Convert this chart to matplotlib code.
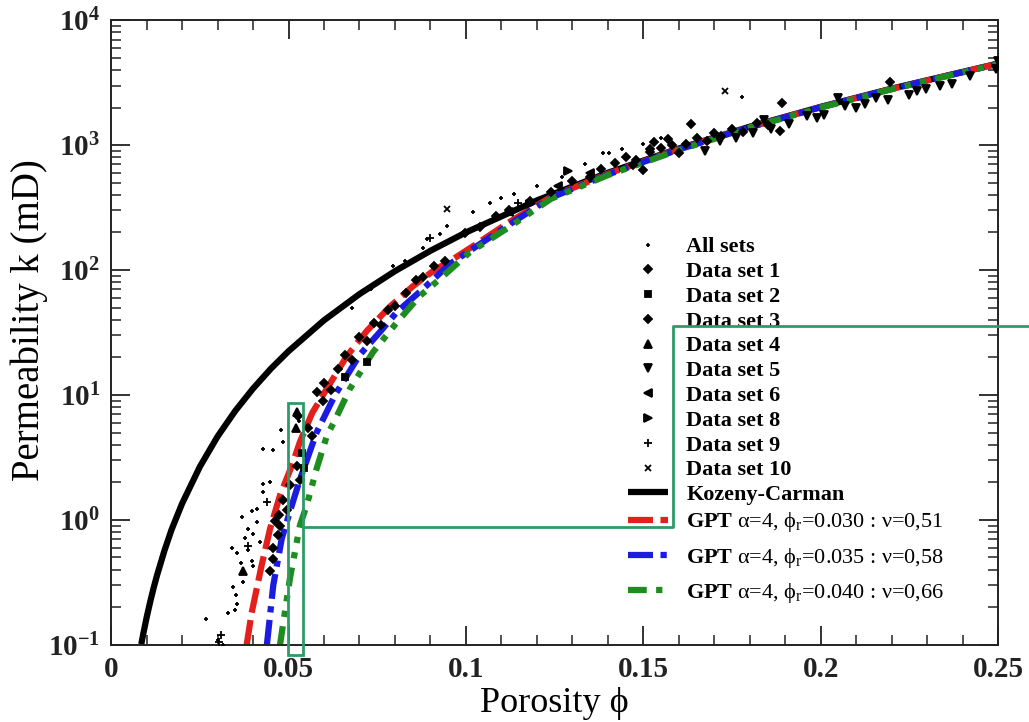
import numpy as np
import matplotlib
matplotlib.use('Agg')
import matplotlib.pyplot as plt
from matplotlib.patches import Rectangle
from matplotlib.ticker import FixedLocator, MultipleLocator, FuncFormatter, LogLocator

plt.rcParams['font.family'] = ['Liberation Serif', 'DejaVu Serif']
plt.rcParams['mathtext.fontset'] = 'custom'
plt.rcParams['mathtext.rm'] = 'Liberation Serif'
plt.rcParams['mathtext.it'] = 'Liberation Serif:italic'
plt.rcParams['mathtext.bf'] = 'Liberation Serif:bold'

# Kozeny-Carman curve
kc_phi = [0.0085, 0.009, 0.01, 0.011, 0.012, 0.013, 0.015, 0.017, 0.02, 0.025, 0.03,
          0.035, 0.04, 0.045, 0.05, 0.06, 0.07, 0.08, 0.09, 0.10, 0.12, 0.14,
          0.16, 0.18, 0.20, 0.22, 0.25]
kc_k = [0.101, 0.12, 0.165, 0.22, 0.287, 0.365, 0.564, 0.83, 1.35, 2.66, 4.65,
        7.46, 11.25, 16.2, 22.4, 39.6, 64.2, 98, 142.6, 200, 361, 601,
        940, 1405, 2025, 2835, 4500]

# GPT curves
red_phi = [0.0382, 0.0396, 0.0424, 0.0448, 0.0476, 0.0509, 0.0532, 0.0567, 0.0608,
           0.0664, 0.072, 0.0786, 0.085, 0.0907, 0.0965, 0.103, 0.112, 0.124, 0.14,
           0.16, 0.18, 0.20, 0.22, 0.25]
red_k = [0.1, 0.18, 0.43, 0.85, 1.57, 2.7, 4.2, 7.2, 11.2, 20.4, 32.4, 51, 74, 98,
         123, 162, 240, 385, 590, 930, 1395, 2015, 2820, 4490]

blue_phi = [0.0439, 0.0457, 0.0481, 0.0509, 0.0532, 0.0579, 0.0631, 0.0701, 0.0758,
            0.0805, 0.088, 0.0955, 0.103, 0.112, 0.124, 0.14, 0.16, 0.18, 0.20,
            0.22, 0.25]
blue_k = [0.1, 0.30, 0.71, 1.3, 2.1, 5.0, 10, 21, 32, 46, 71, 112, 155, 229, 380,
          582, 923, 1390, 2010, 2815, 4480]

green_phi = [0.0476, 0.0504, 0.0532, 0.0551, 0.0579, 0.0608, 0.0631, 0.0673, 0.0738,
             0.0805, 0.087, 0.0935, 0.101, 0.112, 0.124, 0.14, 0.16, 0.18, 0.20,
             0.22, 0.25]
green_k = [0.1, 0.34, 0.9, 1.3, 2.56, 4.7, 6.3, 11.2, 22, 38, 62, 89, 138, 219, 372,
           575, 912, 1380, 2000, 2800, 4470]

# measured data
all_phi = [0.0268, 0.0328, 0.0349, 0.0354, 0.0344, 0.0372, 0.034, 0.0354, 0.0386, 0.0398,
           0.040, 0.037, 0.0396, 0.041, 0.040, 0.042, 0.041, 0.0429, 0.0457, 0.0429,
           0.0448, 0.0429, 0.048, 0.0485, 0.0518, 0.0529, 0.0448, 0.030, 0.0315, 0.0352,
           0.0366, 0.0385, 0.0378, 0.0948, 0.1019, 0.1068, 0.1136, 0.0889, 0.0927, 0.0878,
           0.0795, 0.0828, 0.1387, 0.1403, 0.1439, 0.1335, 0.1498, 0.1777, 0.155, 0.0733,
           0.068, 0.110, 0.120, 0.127]
all_k = [0.16, 0.18, 0.19, 0.21, 0.29, 0.32, 0.59, 0.54, 0.57, 0.47,
         0.43, 1.06, 1.17, 1.22, 0.77, 0.66, 0.96, 3.7, 3.6, 1.94,
         2.0, 1.66, 5.2, 4.2, 7.0, 6.2, 0.59, 0.11, 0.10, 0.25,
         0.45, 0.85, 0.72, 226, 294, 345, 407, 178, 194, 150,
         107, 118, 870, 865, 930, 710, 1020, 2450, 1130, 70,
         50, 380, 470, 560]

set1_phi = [0.1635, 0.1518, 0.150, 0.1086, 0.0997, 0.189, 0.1885, 0.2196, 0.145, 0.148,
            0.152, 0.155, 0.158, 0.160, 0.162, 0.165, 0.168, 0.170, 0.172, 0.175,
            0.178, 0.182, 0.185, 0.157, 0.153, 0.147, 0.142, 0.138, 0.135, 0.130,
            0.124, 0.118, 0.112, 0.104]
set1_k = [1480, 930, 635, 270, 199, 2180, 1300, 3230, 800, 760,
          880, 950, 1000, 870, 1020, 1150, 1080, 1250, 1180, 1350,
          1280, 1500, 1450, 1120, 1050, 690, 720, 640, 560, 520,
          420, 360, 300, 220]

set2_phi = [0.0537, 0.072, 0.0545, 0.066]
set2_k = [3.4, 18.2, 2.6, 14]

set3_phi = [0.0523, 0.0532, 0.0476, 0.047, 0.0457, 0.0457, 0.0448, 0.0556, 0.0565, 0.0579,
            0.0598, 0.0528, 0.060, 0.062, 0.064, 0.066, 0.068, 0.070, 0.072, 0.074,
            0.076, 0.078, 0.080, 0.083, 0.086, 0.088, 0.091, 0.094, 0.0505, 0.0495,
            0.0485, 0.0462, 0.0472]
set3_k = [2.7, 2.1, 0.9, 0.75, 0.59, 0.49, 0.39, 5.4, 4.7, 10.5,
          9.0, 6.8, 12.5, 11, 16, 21, 19, 29, 27, 38,
          36, 48, 52, 66, 83, 88, 108, 118, 1.9, 1.2,
          1.45, 0.98, 1.1]

set4_phi = [0.0372, 0.0521, 0.0525]
set4_k = [0.39, 5.4, 7.3]

set5_phi = [0.181, 0.196, 0.201, 0.2068, 0.2124, 0.2157, 0.2297, 0.2335, 0.1673, 0.1715,
            0.205, 0.225, 0.237, 0.2495, 0.250, 0.186, 0.191, 0.199, 0.219, 0.227,
            0.242, 0.176, 0.184, 0.210]
set5_k = [1240, 1700, 1740, 2040, 2140, 2400, 2810, 2950, 895, 1075,
          2400, 2500, 3090, 4080, 4700, 1350, 1480, 1650, 2300, 2700,
          3600, 1150, 1600, 2000]

set6_phi = [0.126, 0.135, 0.112]
set6_k = [470, 600, 290]

set8_phi = [0.1288, 0.118]
set8_k = [626, 340]

set9_phi = [0.1146, 0.0899, 0.031, 0.0305, 0.0385, 0.044]
set9_k = [345, 179, 0.12, 0.105, 0.62, 1.4]

set10_phi = [0.0948, 0.173]
set10_k = [309, 2700]

gpt_labels = [r"$\mathbf{GPT}$ α=4, ϕ$_\mathrm{r}$=0.030 : ν=0,51",
              r"$\mathbf{GPT}$ α=4, ϕ$_\mathrm{r}$=0.035 : ν=0,58",
              r"$\mathbf{GPT}$ α=4, ϕ$_\mathrm{r}$=0.040 : ν=0,66"]

fig = plt.figure(figsize=(10.29, 7.22), dpi=100)
ax = fig.add_axes([0.108, 0.107, 0.862, 0.865])

kc_line, = ax.plot(kc_phi, kc_k, color='black', lw=4.5, solid_capstyle='butt', label='Kozeny-Carman', zorder=2)
r_line, = ax.plot(red_phi, red_k, color='#e3201b', lw=4.5, ls=(0, (4, 1.2)), label=gpt_labels[0], zorder=2)
b_line, = ax.plot(blue_phi, blue_k, color='#1c1ce0', lw=4.5, ls=(0, (4, 1.2, 1, 1.2)), label=gpt_labels[1], zorder=2)
g_line, = ax.plot(green_phi, green_k, color='#1e8c1e', lw=4.5, ls=(0, (3, 1.5, 1, 1.5, 1, 1.5)), label=gpt_labels[2], zorder=2)

pts = [
    (all_phi, all_k, '+', 3.5, 'All sets'),
    (set1_phi, set1_k, 'D', 4.5, 'Data set 1'),
    (set2_phi, set2_k, 's', 4.5, 'Data set 2'),
    (set3_phi, set3_k, 'D', 4.5, 'Data set 3'),
    (set4_phi, set4_k, '^', 5.5, 'Data set 4'),
    (set5_phi, set5_k, 'v', 5.5, 'Data set 5'),
    (set6_phi, set6_k, '<', 5.5, 'Data set 6'),
    (set8_phi, set8_k, '>', 5.5, 'Data set 8'),
    (set9_phi, set9_k, '+', 6, 'Data set 9'),
    (set10_phi, set10_k, 'x', 4.5, 'Data set 10'),
]
pt_handles = []
for px, py, m, ms, lab in pts:
    hh, = ax.plot(px, py, ls='none', marker=m, ms=ms, color='black', mew=1.3, label=lab, zorder=3)
    pt_handles.append(hh)

ax.set_xlim(0, 0.25)
ax.set_yscale('log')
ax.set_ylim(0.1, 1e4)

ax.xaxis.set_major_locator(FixedLocator([0, 0.05, 0.1, 0.15, 0.2, 0.25]))
ax.xaxis.set_minor_locator(MultipleLocator(0.01))
ax.xaxis.set_major_formatter(FuncFormatter(lambda v, p: '%g' % round(v, 3)))
ax.yaxis.set_major_locator(LogLocator(base=10, numticks=10))
ax.yaxis.set_minor_locator(LogLocator(base=10, subs=np.arange(2, 10), numticks=20))
ax.yaxis.set_major_formatter(FuncFormatter(lambda v, p: r'$\mathbf{10^{%d}}$' % round(np.log10(v))))

ax.tick_params(which='both', direction='in', top=True, right=True, colors='#222222')
ax.tick_params(which='major', length=14, width=1.3, labelsize=21, pad=8)
ax.tick_params(which='minor', length=7, width=1.1)
for lab in ax.get_xticklabels():
    lab.set_fontweight('bold')
for sp in ax.spines.values():
    sp.set_linewidth(1.4)
    sp.set_color('#222222')

ax.set_xlabel('Porosity ϕ', fontsize=26, labelpad=3)
ax.set_ylabel('Permeability k (mD)', fontsize=28)
ax.yaxis.set_label_coords(-0.071, 0.52)

# legend: markers + Kozeny-Carman, then GPT rows with wider spacing
lprop = {'family': 'Liberation Serif', 'weight': 'bold', 'size': 16}
leg1 = ax.legend(pt_handles + [kc_line], [p[4] for p in pts] + ['Kozeny-Carman'],
                 loc='upper left', bbox_to_anchor=(0.5706, 0.671), frameon=False,
                 borderpad=0, numpoints=1, handlelength=1.8, handletextpad=0.8,
                 labelspacing=0.19, prop=lprop)
ax.add_artist(leg1)
leg2 = ax.legend([r_line, b_line, g_line], gpt_labels, loc='upper left',
                 bbox_to_anchor=(0.5706, 0.233), frameon=False, borderpad=0,
                 handlelength=1.8, handletextpad=0.8, labelspacing=0.51, prop=lprop)
for t in leg2.get_texts():
    t.set_fontweight('normal')

# green zoom marker
zc = '#2f9a68'
ax.add_patch(Rectangle((0.0498, 0.083), 0.0042, 8.6 - 0.083, fill=False,
                       edgecolor=zc, lw=2, clip_on=False, zorder=5))
ax.plot([0.054, 0.1583, 0.1583, 0.2586], [0.88, 0.88, 35.6, 35.6], color=zc,
        lw=2, clip_on=False, zorder=5)

fig.savefig('out.png', dpi=100)
